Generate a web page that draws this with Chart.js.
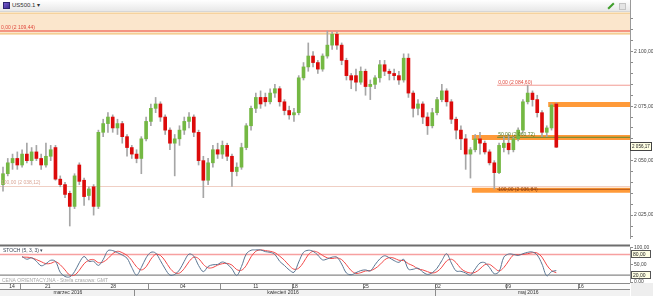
<!DOCTYPE html>
<html><head><meta charset="utf-8">
<script src="https://cdn.jsdelivr.net/npm/chart.js@4/dist/chart.umd.min.js"></script>
<style>
html,body{margin:0;padding:0;background:#fff;}
body{width:653px;height:296px;position:relative;overflow:hidden;font-family:"Liberation Sans",Arial,sans-serif;}
canvas{position:absolute;left:0;}
#main{top:0;}
#stoch{top:240px;}
#hdr{position:absolute;left:0;top:0;width:630px;height:11px;background:linear-gradient(#ffffff,#e8e8e8);border-bottom:1px solid #d6d6d6;z-index:2;}
#hdr .ic{position:absolute;left:3px;top:2px;width:7px;height:7px;background:linear-gradient(135deg,#7a5ad0,#3a2e90);border:1px solid #2c2470;box-sizing:border-box;}
#hdr .t{position:absolute;left:12px;top:1px;font-size:6px;line-height:9px;color:#333;white-space:nowrap;}
#hdr .r1{position:absolute;left:610px;top:2px;width:2px;height:8px;background:#3e9e2a;transform:rotate(45deg);}
#hdr .r2{position:absolute;left:619px;top:3px;width:5px;height:5px;background:#e4e4e4;border:1px solid #c4c4c4;}
#axtop{position:absolute;left:630px;top:0;width:1px;height:12px;background:#999;z-index:3;}
</style></head><body>
<canvas id="main" width="653" height="242"></canvas>
<canvas id="stoch" width="653" height="56"></canvas>
<div id="hdr"><div class="ic"></div><div class="t">US500.1 ▾</div><div class="r1"></div><div class="r2"></div></div>
<div id="axtop"></div>
<script>
// ---------- DATA ----------
const opens = [
2039,2044,2049,2051,2048,2053,2050,2054,2051,2048,
2052,2056,2041.5,2039,2035,2029,2048,2041,2034,2038,
2029,2063,2067,2070,2065,2067,2061,2056,2053,2051,
2060,2068,2074,2076,2070,2064,2058,2060,2064,2068,
2070,2063,2050,2041,2049,2055,2053,2057,2052,2045,
2047,2056,2066,2074,2079,2079,2077,2081,2083,2077,
2073,2071,2072,2088,2093,2098,2095,2092,2098,2103,
2108,2103,2096,2089,2089,2086,2091,2084,2085,2088,
2094,2091,2090,2089,2087,2097,2081,2074,2076,2070,
2066,2072,2078,2082,2077,2069,2064,2060,2053,2055,
2060,2058,2054,2049,2044.5,2056,2058,2055,2060,2064,
2077,2081,2078,2072,2063,2065,2076];
const highs = [
2047,2051,2053,2054,2055,2058,2056,2057,2053,2058,
2057,2057,2043,2040,2036,2044,2049,2042,2038,2039,
2064,2069,2072,2071,2069,2068,2062,2057,2055,2061,
2070,2076,2079,2077,2071,2065,2062,2066,2070,2072,
2071,2064,2052,2051,2057,2058,2059,2058,2053,2049,
2058,2067,2075,2081,2082,2081,2083,2085,2084,2078,
2075,2074,2089,2095,2104,2100,2096,2099,2109.44,2109,
2109,2104,2097,2090,2092,2093,2092,2087,2089,2096,
2096,2092,2092,2091,2099,2099,2082,2078,2077,2072,
2074,2079,2085,2083,2078,2070,2066,2062,2056,2062,
2063,2059,2055,2050,2058,2061,2062,2061,2065,2078,
2084.6,2082,2080,2073,2066,2076,2076.5];
const lows = [
2036,2043,2046,2046,2047,2049,2048,2050,2046,2047,
2050,2041,2038,2033,2020,2028,2039,2029.5,2032,2025,
2028,2061,2063,2063,2062,2058,2052,2051,2049,2044,
2059,2066,2072,2068,2062,2055,2043,2057,2062,2065,
2061,2048,2033,2039,2047,2051,2051,2050,2038.12,2043,
2046,2055,2064,2072,2074,2075,2076,2079,2075,2071,
2069,2068,2071,2087,2091,2093,2090,2091,2097,2101,
2101,2094,2087,2083,2082,2085,2080,2078,2083,2086,
2089,2087,2087,2085,2086,2079,2070,2071,2067,2062,
2065,2071,2077,2075,2067,2060,2055,2046,2042,2054,
2053,2053,2048,2037,2044,2054,2053,2054,2059,2063,
2076,2075,2070,2061,2061,2064,2056];
const closes = [
2044,2049,2051,2048,2053,2050,2054,2051,2048,2052,
2055,2041.5,2039,2034.5,2029,2043,2040.5,2033.5,2037,2029,
2063,2067,2070,2065,2067,2061,2056,2053,2051,2060,
2068,2074,2076,2070,2064,2058,2060,2064,2068,2070,
2063,2050,2041,2049,2055,2053,2057,2052,2045,2047,
2056,2066,2074,2079,2076,2077,2081,2083,2077,2073,
2071,2072,2088,2093,2098,2095,2092,2098,2103,2108,
2103,2096,2089,2087,2086,2091,2084,2085,2088,2094,
2091,2090,2089,2087,2097,2081,2074,2076,2070,2066,
2072,2078,2082,2077,2069,2064,2060,2053,2055,2060,
2058,2054,2049,2044.5,2057,2058,2055,2060,2064,2077,
2081,2078,2072,2063,2065,2075.5,2056.17];
const stochK = [null,null,null,null,
74,66,70,60,47,53,63,60,28,16,
15,30,56,74,60,60,48,65,91,91,
85,78,69,42,20,42,70,86,84,62,
38,20,22,35,60,81,75,48,30,45,
50,51,58,52,38,19,45,81,92,93,
93,88,86,80,60,48,35,28,58,86,
92,89,78,64,67,72,72,52,26,21,
27,33,35,32,50,67,76,70,62,57,
66,37,37,40,29,22,27,40,62,82,
55,32,31,26,20,38,55,56,42,24,
30,72,81,80,77,82,86,87,78,52,
18,30,33];
const stochD = [null,null,null,null,
72,72,70,65,59,53,54,59,50,35,
20,20,34,53,63,65,56,58,68,82,
89,85,77,63,44,35,44,66,80,77,
61,40,27,26,39,59,72,68,51,41,
42,49,53,54,49,36,34,48,73,89,
93,91,89,85,75,63,48,37,40,57,
79,89,86,77,70,68,70,65,50,33,
25,27,32,33,39,50,64,71,69,63,
62,53,47,38,35,30,26,30,43,61,
66,56,39,30,26,28,38,50,51,41,
32,42,61,78,79,80,82,85,84,72,
49,33,27];
const priceTickLabels = [2025, 2050, 2075, 2100];
const stochTickLabels = [0, 50, 100];
const stochLevels = [80, 20];
const weekLabels = ['14','21','28','04','11','18','25','02','09','16'];
const weekLabelPos = [1.9, 9.4, 23.1, 37.7, 53.0, 61.2, 76.1, 91.2, 105.9, 121.2];
const weekDividers = [3.5, 30.5, 45.5, 60.5, 75.5, 90.5, 105.5, 120.5];
const monthLabels = ['marzec 2016', 'kwiecień 2016', 'maj 2016'];
const monthLabelPos = [13.6, 58.7, 110.1];
const monthDividers = [27.5, 90.5];
const resistZone = [2117.7, 2108.2];
const fibA = [2109.44, 2038.12];            // 0% , 100%
const fibALabels = ['0,00 (2 109,44)', '100,00 (2 038,12)'];
const fibB = [2084.60, 2060.72, 2036.84];   // 0%, 50%, 100%
const fibBLabels = ['0,00 (2 084,60)', '50,00 (2 060,72)', '100,00 (2 036,84)'];
const fibBStart = 103.6;
const bandLevels = [2075.7, 2060.6, 2036.4];
const bandStarts = [114.3, 98.3, 98.3];
const lastPrice = 2056.17;

// ---------- LAYOUT ----------
const X_MIN = -0.63, X_MAX = 131.45;
const FONT = '"Liberation Sans", Arial, sans-serif';
const UP = '#74b843', UP_B = '#4f8f2a', DN = '#dc0a0a', DN_B = '#a00000', WICK = '#a6a6a6';

function fmt(v){
  const s = v.toFixed(2); const [a,b] = s.split('.');
  return (a.length>3 ? a.slice(0,-3)+' '+a.slice(-3) : a)+','+b;
}
const span = v => [{x:X_MIN,y:v},{x:X_MAX,y:v}];
const from = (i,v) => [{x:i,y:v},{x:X_MAX,y:v}];
const L = (data, color, w, order, extra) => Object.assign({type:'line', data, borderColor:color, borderWidth:w, pointRadius:0, fill:false, order, tension:0}, extra||{});

const mainDeco = {
  id:'mainDeco',
  afterDatasetsDraw(chart){
    const {ctx, chartArea:a, scales:{x,y}} = chart;
    ctx.save();
    ctx.font = '5px '+FONT; ctx.textBaseline='bottom'; ctx.textAlign='left';
    ctx.fillStyle='#e0483c'; ctx.fillText(fibALabels[0], 1, y.getPixelForValue(fibA[0])-0.5);
    ctx.fillStyle='#d9a595'; ctx.fillText(fibALabels[1], 1, y.getPixelForValue(fibA[1])-1);
    const bx = x.getPixelForValue(fibBStart)+1;
    ctx.fillStyle='#e0483c'; ctx.fillText(fibBLabels[0], bx, y.getPixelForValue(fibB[0])-0.5);
    ctx.fillStyle='#4f7a22'; ctx.fillText(fibBLabels[1], bx, y.getPixelForValue(fibB[1])-0.5);
    ctx.fillStyle='#8a3f10'; ctx.fillText(fibBLabels[2], bx, y.getPixelForValue(fibB[2])+3);
    // last price box
    const py = Math.round(y.getPixelForValue(lastPrice));
    ctx.fillStyle='#ffffe4'; ctx.fillRect(a.right+0.5, py-4.5, 21, 8);
    ctx.strokeStyle='#444'; ctx.lineWidth=1; ctx.strokeRect(a.right+0.5, py-4.5, 21, 8);
    ctx.font = '4.6px '+FONT;
    ctx.fillStyle='#222'; ctx.textBaseline='middle'; ctx.fillText(fmt(lastPrice), a.right+2, py);
    ctx.restore();
  }
};

const minorTicks = []; for (let v=2015; v<=2115; v+=5) minorTicks.push(v);

new Chart(document.getElementById('main'), {
  type:'bar',
  data:{datasets:[
    L(span(resistZone[0]), '#f2c47c', 1, 30, {fill:{value:resistZone[1]}, backgroundColor:'#fbe6cc'}),
    L(span(resistZone[1]), '#f2c47c', 1.2, 29),
    L(span(fibA[0]), '#f27a6a', 1.5, 28),
    L(span(fibA[1]), '#f0cfc4', 1, 28),
    L(from(fibBStart, fibB[0]), '#f29a92', 1, 27),
    ...bandLevels.map((v,k)=>L(from(bandStarts[k], v), 'rgba(255,140,30,0.88)', 5, 26)),
    L(from(fibBStart, fibB[1]), '#5e8c2e', 1, 25),
    L(from(fibBStart, fibB[2]), '#b3561a', 1, 25),
    {type:'bar', data: highs.map((h,i)=>({x:i, y:[lows[i], h]})), backgroundColor:WICK, barThickness:1, grouped:false, order:6},
    {type:'bar', data: opens.map((o,i)=>({x:i, y:[o, closes[i]]})),
      backgroundColor: opens.map((o,i)=> closes[i]>=o ? UP : DN),
      borderColor: opens.map((o,i)=> closes[i]>=o ? UP_B : DN_B),
      borderWidth:0, borderSkipped:false, barThickness:3, minBarLength:1, grouped:false, order:5}
  ]},
  options:{
    responsive:false, animation:false, devicePixelRatio:1,
    layout:{padding:{top:12, bottom:2, left:0, right:0}},
    plugins:{legend:{display:false}, tooltip:{enabled:false}},
    scales:{
      x:{type:'linear', min:X_MIN, max:X_MAX, display:false, offset:false},
      y:{position:'right', min:2014.5, max:2118.2,
        afterFit(s){ s.width = 23; },
        afterBuildTicks(s){ s.ticks = minorTicks.map(v=>({value:v})); },
        ticks:{autoSkip:false, font:{size:5, family:FONT}, color:'#444', padding:1,
          callback:v=> priceTickLabels.includes(v) ? fmt(v) : ''},
        grid:{drawOnChartArea:false, drawTicks:true, tickLength:3, color:'#8a8a8a'},
        border:{display:true, color:'#999'}}
    }
  },
  plugins:[mainDeco]
});

const stochDeco = {
  id:'stochDeco',
  afterDraw(chart){
    const {ctx, chartArea:a, scales:{x,y}} = chart;
    ctx.save();
    ctx.fillStyle='#6e6e6e'; ctx.fillRect(0, 4.5, a.right, 2);
    ctx.font='5px '+FONT; ctx.textBaseline='middle'; ctx.textAlign='left';
    ctx.fillStyle='#3c4858'; ctx.fillText('STOCH (5, 3, 3) ▾', 3, 10.5);
    ctx.fillStyle='#a8a8a8'; ctx.fillText('CENA ORIENTACYJNA - Strefa czasowa: GMT', 2, 40.5);
    // boxed level labels
    stochLevels.forEach(v=>{
      const py = Math.round(y.getPixelForValue(v));
      ctx.fillStyle='#ffffe4'; ctx.fillRect(a.right+1.5, py-3.5, 19, 7);
      ctx.strokeStyle='#555'; ctx.lineWidth=1; ctx.strokeRect(a.right+1.5, py-3.5, 19, 7);
      ctx.fillStyle='#222'; ctx.fillText(fmt(v), a.right+3, py+0.5);
    });
    // date rows
    const r1=43, r2=49, r3=56;
    ctx.fillStyle='#fcfcfc'; ctx.fillRect(0, r1, a.right, r2-r1);
    ctx.fillStyle='#f2f2f2'; ctx.fillRect(0, r2, a.right, r3-r2);
    ctx.strokeStyle='#8c8c8c'; ctx.lineWidth=1;
    ctx.beginPath();
    ctx.moveTo(0, r1+0.5); ctx.lineTo(a.right, r1+0.5);
    ctx.moveTo(0, r2+0.5); ctx.lineTo(a.right, r2+0.5);
    weekDividers.forEach(d=>{ const px=Math.round(x.getPixelForValue(d))+0.5; ctx.moveTo(px, r1); ctx.lineTo(px, r2); });
    monthDividers.forEach(d=>{ const px=Math.round(x.getPixelForValue(d))+0.5; ctx.moveTo(px, r2); ctx.lineTo(px, r3); });
    ctx.stroke();
    ctx.fillStyle='#333'; ctx.textAlign='center';
    weekLabels.forEach((t,k)=> ctx.fillText(t, x.getPixelForValue(weekLabelPos[k]), r1+3.5));
    monthLabels.forEach((t,k)=> ctx.fillText(t, x.getPixelForValue(monthLabelPos[k]), r2+3.5));
    // axis column
    ctx.fillStyle='#eeeeee'; ctx.fillRect(a.right+1, r1, 653-a.right, r3-r1);
    ctx.restore();
  }
};

new Chart(document.getElementById('stoch'), {
  type:'line',
  data:{labels:[], datasets:[
    L(span(stochLevels[0]), '#f7a0a0', 1.5, 5),
    L(span(stochLevels[1]), '#6a6a6a', 1, 5),
    L(stochD.map((v,i)=>({x:i,y:v})), '#f24848', 1, 2, {tension:0.35}),
    L(stochK.map((v,i)=>({x:i,y:v})), '#5a7592', 1, 1, {tension:0.35})
  ]},
  options:{
    responsive:false, animation:false, devicePixelRatio:1,
    layout:{padding:{top:7.5, bottom:14, left:0, right:0}},
    plugins:{legend:{display:false}, tooltip:{enabled:false}},
    scales:{
      x:{type:'linear', min:X_MIN, max:X_MAX, display:false, offset:false},
      y:{position:'right', min:0, max:100,
        afterFit(s){ s.width = 23; },
        afterBuildTicks(s){ s.ticks = [0,20,50,80,100].map(v=>({value:v})); },
        ticks:{autoSkip:false, font:{size:5, family:FONT}, color:'#444', padding:1,
          callback:v=> stochTickLabels.includes(v) ? fmt(v) : ''},
        grid:{drawOnChartArea:false, drawTicks:true, tickLength:3, color:'#8a8a8a'},
        border:{display:true, color:'#999'}}
    }
  },
  plugins:[stochDeco]
});
</script>
</body></html>
